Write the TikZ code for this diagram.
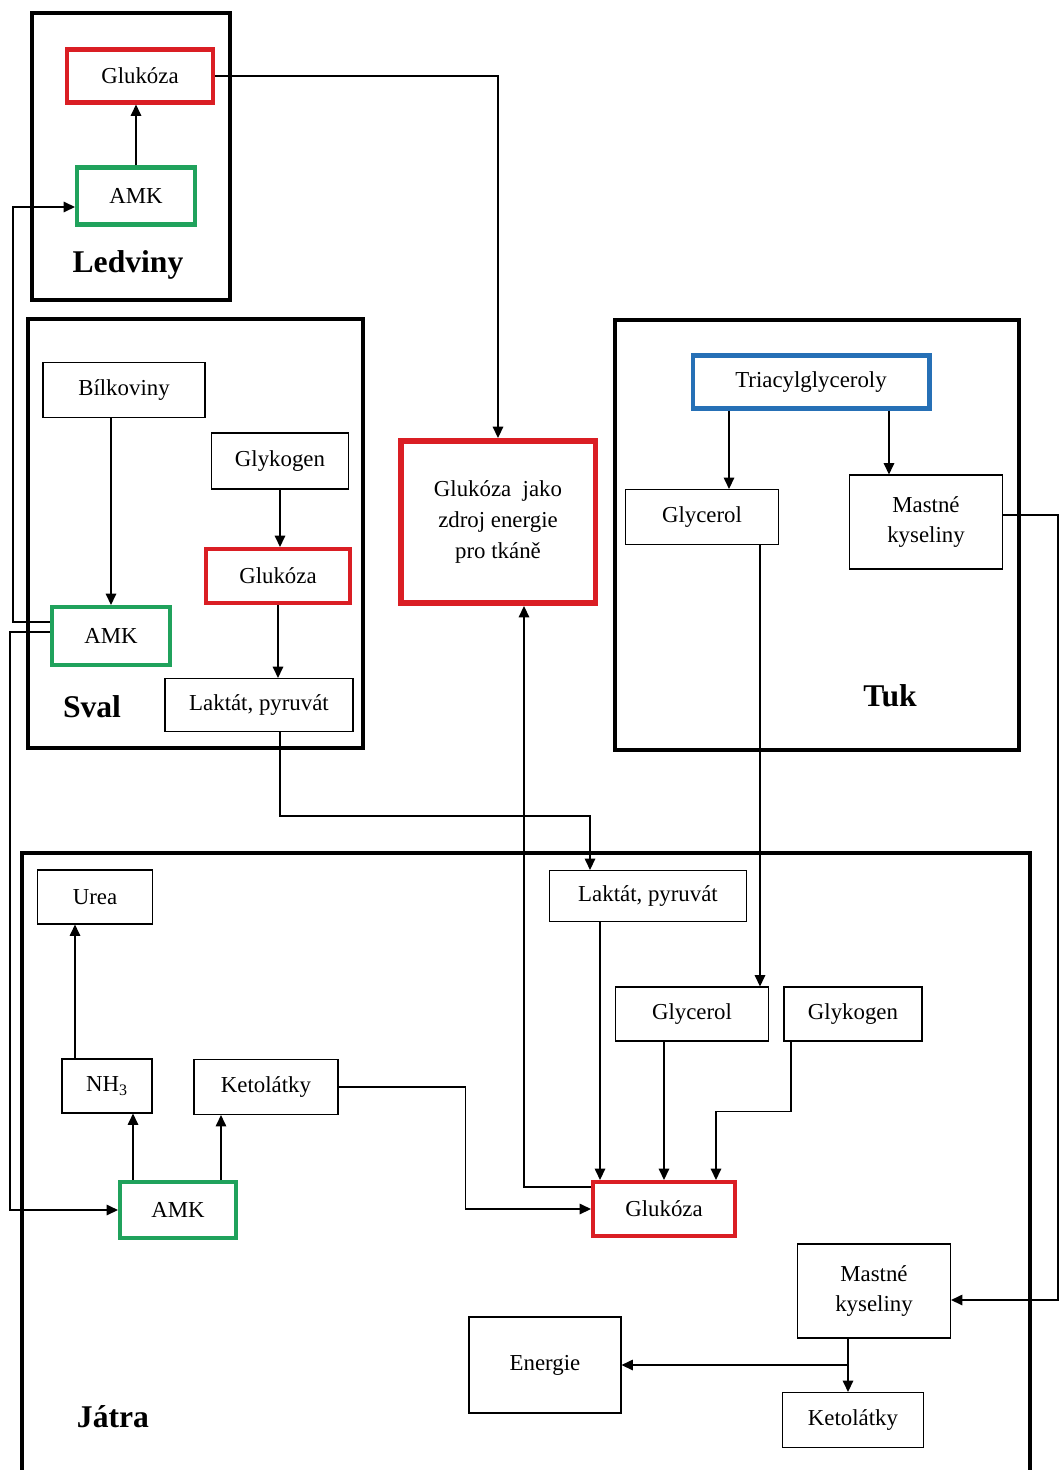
\documentclass[tikz,border=0pt]{standalone}
\usepackage{fontspec}
\setmainfont{Liberation Serif}
\usetikzlibrary{positioning,arrows.meta,calc}
\definecolor{boxred}{RGB}{218,30,36}
\definecolor{boxgreen}{RGB}{32,162,92}
\definecolor{boxblue}{RGB}{38,112,182}

\begin{document}
\begin{tikzpicture}[x=0.02cm,y=-0.02cm,
		box/.style={draw,line width=0.6pt,inner sep=0pt,align=center,font=\fontsize{13}{17.5}\selectfont},
		redbox/.style={box,draw=boxred,line width=2.3pt},
		greenbox/.style={box,draw=boxgreen,line width=2.3pt},
		bluebox/.style={box,draw=boxblue,line width=2.3pt},
		organ/.style={draw,line width=2.8pt},
		organname/.style={font=\fontsize{18}{20}\selectfont\bfseries},
		arr/.style={-{Triangle[length=6.5pt,width=6pt]},line width=0.8pt}]
		\useasboundingbox (0,0) rectangle (1061,1470);
		\draw[organ] (32,13) rectangle (230,300);
		\draw[organ] (28,319) rectangle (363,748);
		\draw[organ] (615,320) rectangle (1019,750);
		\draw[organ] (22,853) rectangle (1030,1500);
		\node[organname] (ledviny) at (128,265) {Ledviny};
		\node[organname] (sval) at (92,707) {Sval};
		\node[organname] (tuk) at (890,696) {Tuk};
		\node[organname] (jatra) at (113,1417) {Játra};
		
		\node[redbox,minimum width=2.92cm,minimum height=1.06cm] (glukL) at (140,76) {Glukóza};
		\node[greenbox,minimum width=2.36cm,minimum height=1.14cm] (amkL) at (136,196) {AMK};
		
		\node[box,minimum width=3.24cm,minimum height=1.10cm] (bilk) at (124,390) {Bílkoviny};
		\node[box,minimum width=2.74cm,minimum height=1.12cm] (glykS) at (280,461) {Glykogen};
		\node[redbox,minimum width=2.88cm,minimum height=1.08cm] (glukS) at (278,576) {Glukóza};
		\node[greenbox,minimum width=2.36cm,minimum height=1.16cm] (amkS) at (111,636) {AMK};
		\node[box,minimum width=3.76cm,minimum height=1.06cm] (laktS) at (259,705) {Laktát, pyruvát};
		
		\node[redbox,line width=3.4pt,minimum width=3.90cm,minimum height=3.24cm] (zdroj) at (498,522) {Glukóza\ \ jako\\zdroj energie\\pro tkáně};
		
		\node[bluebox,minimum width=4.74cm,minimum height=1.06cm] (triac) at (811,382) {Triacylglyceroly};
		\node[box,minimum width=3.06cm,minimum height=1.10cm] (glycT) at (702,517) {Glycerol};
		\node[box,minimum width=3.06cm,minimum height=1.88cm] (mastT) at (926,522) {Mastné\\kyseliny};
		
		\node[box,minimum width=2.30cm,minimum height=1.08cm] (urea) at (95,897) {Urea};
		\node[box,minimum width=1.80cm,minimum height=1.08cm] (nh3) at (107,1086) {NH\textsubscript{3}};
		\node[box,minimum width=2.88cm,minimum height=1.10cm] (ketoA) at (266,1087) {Ketolátky};
		\node[greenbox,minimum width=2.32cm,minimum height=1.12cm] (amkJ) at (178,1210) {AMK};
		\node[box,minimum width=3.94cm,minimum height=1.02cm] (laktJ) at (648,896) {Laktát, pyruvát};
		\node[box,minimum width=3.06cm,minimum height=1.08cm] (glycJ) at (692,1014) {Glycerol};
		\node[box,minimum width=2.76cm,minimum height=1.08cm] (glykJ) at (853,1014) {Glykogen};
		\node[redbox,minimum width=2.84cm,minimum height=1.08cm] (glukJ) at (664,1209) {Glukóza};
		\node[box,minimum width=3.06cm,minimum height=1.88cm] (mastJ) at (874,1291) {Mastné\\kyseliny};
		\node[box,minimum width=3.04cm,minimum height=1.92cm] (energ) at (545,1365) {Energie};
		\node[box,minimum width=2.82cm,minimum height=1.10cm] (ketoB) at (853,1420) {Ketolátky};
		
		\draw[arr] (glukL.east) -| (zdroj.north);
		\draw[arr] (amkL.north) -- (amkL.north |- glukL.south);
		\draw[arr] (amkS.north |- bilk.south) -- (amkS.north);
		\draw[arr] (glykS.south) -- (glykS.south |- glukS.north);
		\draw[arr] (glukS.south) -- (glukS.south |- laktS.north);
		\draw[arr] ([xshift=0.42cm]laktS.south) -- ++(0,84) -| ([xshift=-1.16cm]laktJ.north);
		\draw[arr] ([yshift=0.28cm]amkS.west) -- ++(-37,0) |- ([yshift=-0.22cm]amkL.west);
		\draw[arr] ([yshift=0.08cm]amkS.west) -- ++(-40,0) |- (amkJ.west);
		\draw[arr] ([xshift=-1.64cm]triac.south) -- ([xshift=-1.64cm]triac.south |- glycT.north);
		\draw[arr] ([xshift=1.56cm]triac.south) -- ([xshift=1.56cm]triac.south |- mastT.north);
		\draw[arr] ([xshift=1.16cm]glycT.south) -- ([xshift=1.16cm]glycT.south |- glycJ.north);
		\draw[arr] ([yshift=0.14cm]mastT.east) -- ++(55,0) |- ([yshift=-0.18cm]mastJ.east);
		\draw[arr] ([xshift=-0.64cm]nh3.north) -- ([xshift=-0.64cm]nh3.north |- urea.south);
		\draw[arr] ([xshift=-0.90cm]amkJ.north) -- ([xshift=-0.90cm]amkJ.north |- nh3.south);
		\draw[arr] ([xshift=0.86cm]amkJ.north) -- ([xshift=0.86cm]amkJ.north |- ketoA.south);
		\draw[arr] (ketoA.east) -- ++(127,0) |- (glukJ.west);
		\draw[arr] ([xshift=-1.28cm]glukJ.north |- laktJ.south) -- ([xshift=-1.28cm]glukJ.north);
		\draw[arr] (glukJ.north |- glycJ.south) -- (glukJ.north);
		\draw[arr] ([xshift=-1.24cm]glykJ.south) -- ++(0,70) -| ([xshift=1.04cm]glukJ.north);
		\draw[arr] ([yshift=0.44cm]glukJ.west) -| ([xshift=0.52cm]zdroj.south);
		\draw[arr] ([xshift=-0.52cm]mastJ.south) -- ([xshift=-0.52cm]mastJ.south |- ketoB.north);
		\draw[arr] ([xshift=-0.52cm]mastJ.south |- energ.east) -- (energ.east);
	\end{tikzpicture}
\end{document}
